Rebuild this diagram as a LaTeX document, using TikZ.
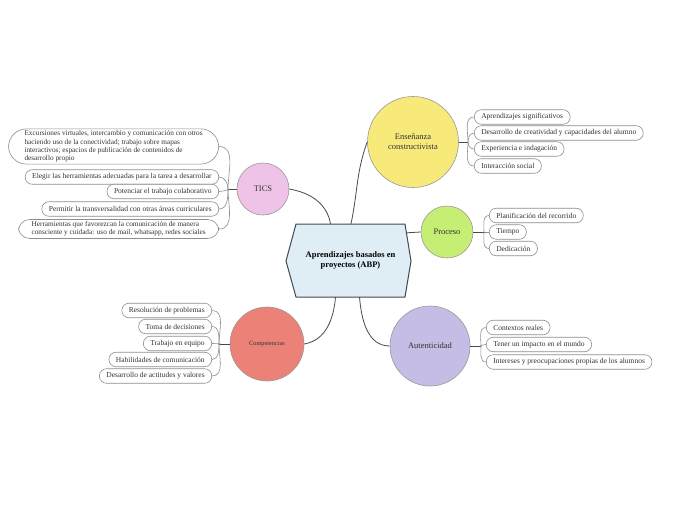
\documentclass[tikz,border=0pt]{standalone}
\usepackage{fontspec}
\setmainfont{Liberation Serif}
\usetikzlibrary{arrows, shapes.geometric}
\definecolor{hubfill}{HTML}{DFEEF5}
\definecolor{hubline}{HTML}{3F4A52}
\definecolor{enscol}{HTML}{F7EA7B}
\definecolor{ticscol}{HTML}{EFC3E7}
\definecolor{proccol}{HTML}{C7EE74}
\definecolor{compcol}{HTML}{EB8177}
\definecolor{autcol}{HTML}{C5BDE5}
\definecolor{linecol}{HTML}{4A4A4A}
\definecolor{leafline}{HTML}{8E8E8E}
\tikzset{
 topic/.style={circle, draw=gray!80, line width=0.6pt, align=center, text=black!80,
   font=\fontsize{8.5}{10}\selectfont, inner sep=0pt},
 leaf/.style={draw=leafline, fill=white, rounded corners=7pt, minimum height=14.5pt,
   inner xsep=7pt, inner ysep=1pt, text=black!80, font=\fontsize{7.5}{8.4}\selectfont, line width=0.6pt},
 link/.style={draw=linecol, line width=0.8pt},
 twig/.style={draw=leafline, line width=0.6pt}
}
\begin{document}
\begin{tikzpicture}[x=1pt,y=-1pt]
\useasboundingbox[fill=white] (0,0) rectangle (697,520);
% central hexagon
\draw[fill=hubfill, draw=hubline, line width=1pt] (296,224) -- (405,224) -- (411,261)
  -- (405,297) -- (296,297) -- (286,261) -- cycle;
\node[minimum width=109pt, minimum height=73pt, align=center, font=\fontsize{8.5}{10}\selectfont\bfseries]
  (abp) at (350.5,260.5) {Aprendizajes basados en\\proyectos (ABP)};

\node[topic, fill=enscol, minimum size=91pt] (en) at (413,142) {Enseñanza\\constructivista};
\node[topic, fill=ticscol, minimum size=52pt] (ti) at (263,189) {TICS};
\node[topic, fill=proccol, minimum size=52pt] (pr) at (447,232) {Proceso};
\node[topic, fill=compcol, minimum size=74pt, font=\fontsize{6.3}{7}\selectfont] (co) at (267,344) {Competencias};
\node[topic, fill=autcol, minimum size=80pt] (au) at (430,346) {Autenticidad};

\draw[link] ([xshift=0.5pt]abp.north) to[out=78,in=-110] (en.west);
\draw[link] ([xshift=-20pt]abp.north) to[out=100,in=-10] (ti.east);
\draw[link] ([shift={(1.5,9)}]abp.north east) -- (pr.west);
\draw[link] ([xshift=-15pt]abp.south) to[out=-95,in=10] (co.east);
\draw[link] ([xshift=9pt]abp.south) to[out=-85,in=180] (au.west);

\coordinate (jE) at (468,142);
\coordinate (jP) at (484,232);
\coordinate (jA) at (481,346);
\coordinate (jT) at (228,189);
\coordinate (jC) at (219,344);
\draw[link] (en.east) -- (jE);
\draw[link] (pr.east) -- (jP);
\draw[link] (au.east) -- (jA);
\draw[link] (ti.west) -- (jT);
\draw[link] (co.west) -- (jC);

% right side leaves
\foreach \n/\t/\y in {1/Aprendizajes significativos/117, 2/Desarrollo de creatividad y capacidades del alumno/133,
  3/Experiencia e indagación/149, 4/Interacción social/166}{
  \node[leaf, anchor=west] (e\n) at (474,\y) {\t};
  \pgfmathsetmacro\o{\y<142 ? 90 : -90}
  \draw[twig] (jE) to[out=\o,in=180] (e\n.west);
}
\foreach \n/\t/\y in {1/Planificación del recorrido/215.5, 2/Tiempo/232, 3/Dedicación/248.5}{
  \node[leaf, anchor=west] (p\n) at (489,\y) {\t};
}
\draw[twig] (jP) to[out=90,in=180] (p1.west);
\draw[twig] (jP) -- (p2.west);
\draw[twig] (jP) to[out=-90,in=180] (p3.west);
\foreach \n/\t/\y in {1/Contextos reales/327.5, 2/Tener un impacto en el mundo/344.5,
  3/Intereses y preocupaciones propias de los alumnos/362}{
  \node[leaf, anchor=west] (a\n) at (486,\y) {\t};
}
\draw[twig] (jA) to[out=90,in=180] (a1.west);
\draw[twig] (jA) to[out=180,in=180] (a2.west);
\draw[twig] (jA) to[out=-90,in=180] (a3.west);

% left side leaves
\node[leaf, anchor=east, rounded corners=18pt, align=left, inner xsep=16pt, inner ysep=2pt,
  font=\fontsize{7.3}{8.2}\selectfont] (t1) at (219,146.5)
  {Excursiones virtuales, intercambio y comunicación con otros\\
  haciendo uso de la conectividad; trabajo sobre mapas\\
  interactivos; espacios de publicación de contenidos de\\desarrollo propio};
\node[leaf, anchor=east] (t2) at (219,177) {Elegir las herramientas adecuadas para la tarea a desarrollar};
\node[leaf, anchor=east] (t3) at (219,191.5) {Potenciar el trabajo colaborativo};
\node[leaf, anchor=east] (t4) at (219,209) {Permitir la transversalidad con otras áreas curriculares};
\node[leaf, anchor=east, rounded corners=11pt, align=left, inner xsep=13pt, inner ysep=2pt,
  font=\fontsize{7.3}{8.2}\selectfont] (t5) at (219,229)
  {Herramientas que favorezcan la comunicación de manera\\
  consciente y cuidada: uso de mail, whatsapp, redes sociales};
\draw[twig] (jT) to[out=90,in=0] (t1.east);
\draw[twig] (jT) to[out=90,in=0] (t2.east);
\draw[twig] (jT) to[out=0,in=0] (t3.east);
\draw[twig] (jT) to[out=-90,in=0] (t4.east);
\draw[twig] (jT) to[out=-90,in=0] (t5.east);

\foreach \n/\t/\y in {1/Resolución de problemas/310.5, 2/Toma de decisiones/326.5, 3/Trabajo en equipo/343.5,
  4/Habilidades de comunicación/359.5, 5/Desarrollo de actitudes y valores/376}{
  \node[leaf, anchor=east] (c\n) at (212,\y) {\t};
  \pgfmathsetmacro\o{\y<342 ? 90 : (\y>346 ? -90 : 0)}
  \draw[twig] (jC) to[out=\o,in=0] (c\n.east);
}
\end{tikzpicture}
\end{document}
